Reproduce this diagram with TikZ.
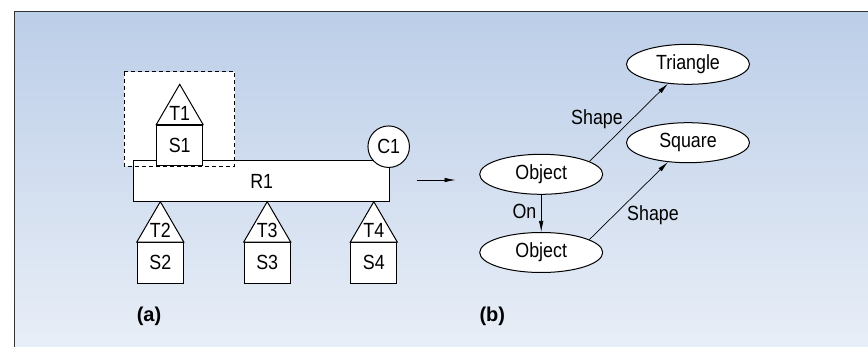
\documentclass[tikz,border=0pt]{standalone}
\usepackage{fontspec}
\setmainfont{Liberation Sans}[FakeStretch=0.87]
\newfontfamily\lblfont{Liberation Sans}
\usetikzlibrary{arrows.meta,shapes.geometric}
\definecolor{bgtop}{HTML}{BCCEE8}
\definecolor{bgbot}{HTML}{E8EEF7}
\definecolor{frame}{HTML}{333333}
\tikzset{
  shp/.style={draw=black,line width=1pt,fill=white},
  boxnode/.style={shp,rectangle,minimum width=46pt,minimum height=40.5pt,inner sep=0pt,font=\fontsize{20.5}{20.5}\selectfont},
  lbl/.style={font=\fontsize{20.5}{20.5}\selectfont,inner sep=0pt},
  ell/.style={shp,ellipse,minimum width=123pt,minimum height=40pt,inner sep=0pt,font=\fontsize{20.5}{20.5}\selectfont},
  arr/.style={draw=black,line width=0.7pt,-{Latex[length=11pt,width=4.5pt]}},
  figcap/.style={font=\lblfont\bfseries\fontsize{20}{20}\selectfont,inner sep=0pt}
}
\begin{document}
\begin{tikzpicture}[x=1pt,y=-1pt]
\useasboundingbox (0,0) rectangle (868,347);
\fill[white] (0,0) rectangle (868,347);
\shade[top color=bgtop,bottom color=bgbot] (14,12) rectangle (868,347);
\draw[frame,line width=1pt] (868,12) -- (14,12) -- (14,347);
% dashed region fill
\fill[white] (124.3,71.7) rectangle (234.7,166);
% R1
\node[shp,rectangle,minimum width=256pt,minimum height=40.7pt,inner sep=0pt,lbl] (R1) at (261.7,181.3) {R1};
% S1, T1
\node[boxnode] (S1) at (179.7,145.5) {S1};
\draw[shp] (S1.north west) -- (179.7,84.3) -- (S1.north east) -- cycle;
\node[lbl] (T1) at (179.7,113.5) {T1};
% dashed rect
\draw[black,line width=0.8pt,dash pattern=on 4pt off 3pt] (124.3,71.7) rectangle (234.7,166);
% C1
\node[shp,circle,minimum size=41.5pt,inner sep=0pt,lbl] (C1) at (388.7,146.7) {C1};
% lower boxes
\node[boxnode] (S2) at (160.3,262.8) {S2};
\draw[shp] (S2.north west) -- (160.3,201.7) -- (S2.north east) -- cycle;
\node[lbl] (T2) at (160.3,230.5) {T2};
\node[boxnode] (S3) at (267.2,262.8) {S3};
\draw[shp] (S3.north west) -- (267.2,201.7) -- (S3.north east) -- cycle;
\node[lbl] (T3) at (267.2,230.5) {T3};
\node[boxnode] (S4) at (373.8,262.8) {S4};
\draw[shp] (S4.north west) -- (373.8,201.7) -- (S4.north east) -- cycle;
\node[lbl] (T4) at (373.8,230.5) {T4};
% middle arrow
\coordinate (ma) at (416.7,180);
\coordinate (mb) at (455.5,180);
\draw[arr] (ma) -- (mb);
% right graph
\node[ell] (tri) at (688,64.3) {Triangle};
\node[ell] (sq) at (688,142.7) {Square};
\node[ell] (o1) at (541.2,174.3) {Object};
\node[ell] (o2) at (541.2,252.5) {Object};
\draw[arr] (o1) -- (o2);
\draw[arr] (o1.15) -- (tri.224);
\draw[arr] (o2.15) -- (sq.224);
\node[lbl] (on) at (524.5,211) {On};
\node[lbl] (sh1) at (597,119) {Shape};
\node[lbl] (sh2) at (653,215) {Shape};
\node[figcap] (a) at (149,316.7) {(a)};
\node[figcap] (b) at (492.3,316.7) {(b)};
\end{tikzpicture}
\end{document}
